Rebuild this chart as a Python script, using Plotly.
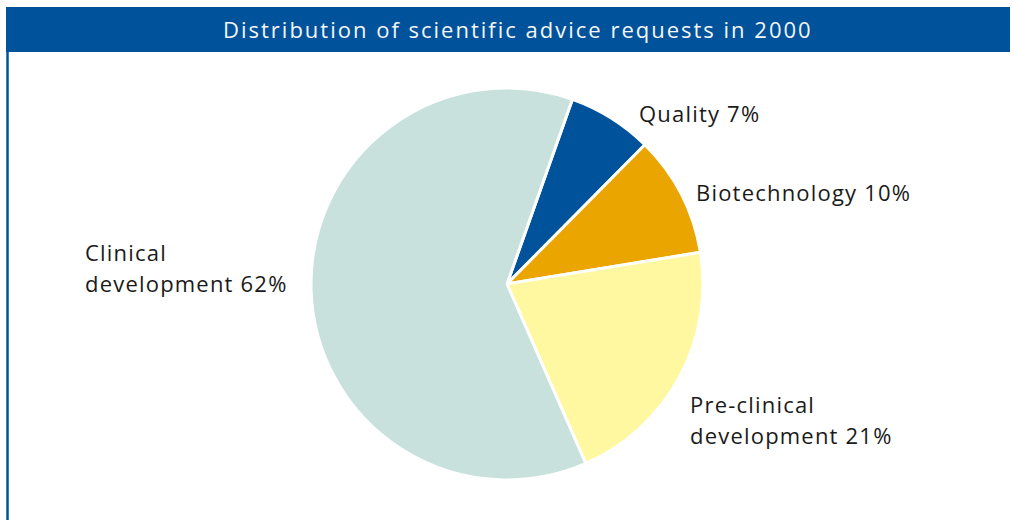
import plotly.graph_objects as go

W, H = 1014, 520
categories = ["Quality", "Biotechnology", "Pre-clinical development", "Clinical development"]
values = [7, 10, 21, 62]
label_lines = [["Quality 7%"], ["Biotechnology 10%"], ["Pre-clinical", "development 21%"], ["Clinical", "development 62%"]]
colors = ["#00529B", "#EBA500", "#FFF8A0", "#C8E1DC"]
title_text = "Distribution of scientific advice requests in 2000"

cx, cy, r = 507, 284, 196

fig = go.Figure(go.Pie(
    labels=categories, values=values, sort=False, direction="clockwise",
    rotation=19.5, textinfo="none", hoverinfo="label+percent",
    marker=dict(colors=colors, line=dict(color="white", width=3)),
    domain=dict(x=[(cx - r) / W, (cx + r) / W], y=[1 - (cy + r) / H, 1 - (cy - r) / H]),
    showlegend=False,
))

font_fam = "'Open Sans', 'Noto Sans', sans-serif"
label_pos = [(637, 113), (694, 192), (688, 404), (83, 252)]
line_gap = 31
for lines, (x, y) in zip(label_lines, label_pos):
    for i, t in enumerate(lines):
        fig.add_annotation(x=x / W, y=1 - (y + i * line_gap) / H, xref="paper", yref="paper", text=t,
                           showarrow=False, xanchor="left", yanchor="middle", align="left",
                           font=dict(family=font_fam, size=22, color="#1a1a1a"))

fig.add_shape(type="rect", xref="paper", yref="paper", x0=6 / W, x1=1010 / W,
              y0=1 - 52 / H, y1=1 - 7 / H, fillcolor="#00529B", line=dict(width=0), layer="below")
fig.add_shape(type="line", xref="paper", yref="paper", x0=7.5 / W, x1=7.5 / W,
              y0=0, y1=1 - 7 / H, line=dict(color="#00529B", width=2.5))
fig.add_annotation(x=518 / W, y=1 - 29 / H, xref="paper", yref="paper", text=title_text,
                   showarrow=False, xanchor="center", yanchor="middle",
                   font=dict(family=font_fam, size=22, color="#F4F6F8"))

fig.update_layout(width=W, height=H, margin=dict(l=0, r=0, t=0, b=0),
                  paper_bgcolor="white", plot_bgcolor="white")

post = """
document.body.style.margin='0';document.body.style.padding='0';
var gd=document.getElementById('{plot_id}');
function ls(){
  document.querySelectorAll('.annotation-text').forEach(function(e){
    var t=e.textContent;
    e.style.letterSpacing = (t.indexOf('Distribution')===0) ? '2px' : '1.2px';
  });
}
ls(); if (gd && gd.on) { gd.on('plotly_afterplot', ls); }
setTimeout(ls, 30); setTimeout(ls, 200);
"""
fig.write_html("out.html", config={"displayModeBar": False}, post_script=post)
